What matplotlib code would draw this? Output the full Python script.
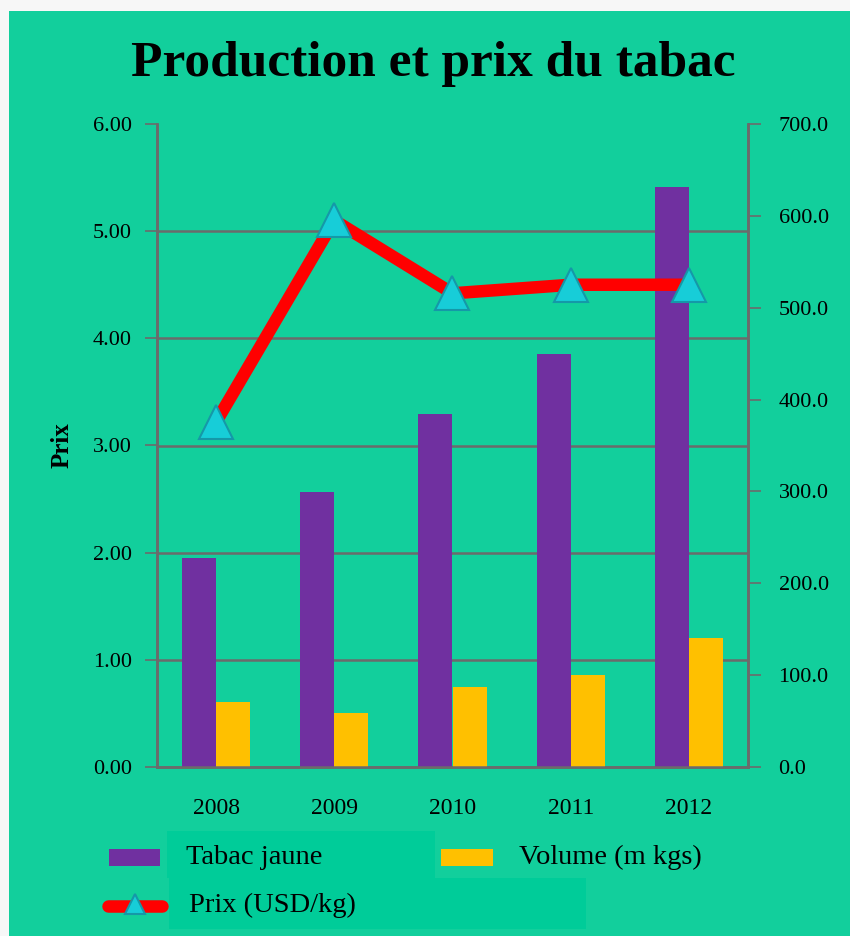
import matplotlib
matplotlib.use("Agg")
import matplotlib.pyplot as plt
import numpy as np
from matplotlib.patches import Rectangle
from matplotlib.lines import Line2D
from matplotlib.ticker import LinearLocator, FormatStrFormatter

years = ["2008", "2009", "2010", "2011", "2012"]
tabac_jaune = [228, 299, 384, 450, 631]
volume = [71, 59, 87, 100, 140]
prix = [3.22, 5.10, 4.42, 4.50, 4.50]

title = "Production et prix du tabac"
ylabel = "Prix"
labels = ["Tabac jaune", "Volume (m kgs)", "Prix (USD/kg)"]

BG = "#12CF9C"
BOX = "#00CC99"
PURPLE = "#7030A0"
YELLOW = "#FFC000"
RED = "#FF0000"
CYAN = "#17CDD8"
CYAN_EDGE = "#1598A8"
GRID = "#6B6B6B"
FONT = "Liberation Serif"

plt.rcParams['font.family'] = [FONT, 'DejaVu Serif']

W, H = 850, 936
fig = plt.figure(figsize=(W / 100, H / 100), dpi=100, facecolor="#F7F7F7")
fig.add_artist(Rectangle((9 / W, 0), 1 - 9 / W, 1 - 11 / H, transform=fig.transFigure,
                         facecolor=BG, edgecolor="none", zorder=0))

pos = [157 / W, 1 - 767 / H, (748 - 157) / W, (767 - 124) / H]
ax_bar = fig.add_axes(pos)
ax_bar.set_zorder(1)
ax_line = ax_bar.twinx()
ax_line.set_zorder(2)
ax_bar.patch.set_visible(False)
ax_line.patch.set_visible(False)

x = np.arange(len(years))
bw = 0.288
ax_bar.bar(x - bw / 2, tabac_jaune, bw, color=PURPLE, zorder=3)
ax_bar.bar(x + bw / 2, volume, bw, color=YELLOW, zorder=3)
ax_bar.set_xlim(-0.5, len(years) - 0.5)
ax_bar.set_ylim(0, 700)
ax_bar.yaxis.tick_right()
ax_bar.set_yticks(np.arange(0, 701, 100))
ax_bar.yaxis.set_major_formatter(FormatStrFormatter("%.1f"))
ax_bar.yaxis.set_minor_locator(LinearLocator(7))
ax_bar.grid(axis="y", which="minor", color=GRID, linewidth=1.8, zorder=0)
ax_bar.tick_params(axis="y", which="minor", length=0)
ax_bar.tick_params(axis="y", which="major", right=True, left=False, length=9, width=1.2,
                   color=GRID, pad=13, labelsize=16, labelright=True, labelleft=False)
ax_bar.set_xticks(x)
ax_bar.set_xticklabels(years)
ax_bar.tick_params(axis="x", length=0, pad=22, labelsize=17)

ax_line.plot(x, prix, color=RED, linewidth=9, marker="^", markersize=24,
             markerfacecolor=CYAN, markeredgecolor=CYAN_EDGE, markeredgewidth=1.5,
             zorder=5, solid_capstyle="butt")
ax_line.set_ylim(0, 6)
ax_line.yaxis.tick_left()
ax_line.yaxis.set_label_position("left")
ax_line.set_yticks(np.arange(0, 7, 1))
ax_line.yaxis.set_major_formatter(FormatStrFormatter("%.2f"))
ax_line.tick_params(axis="y", left=True, right=False, length=9, width=1.2, color=GRID,
                    pad=9, labelsize=16, labelleft=True, labelright=False)
ax_line.set_ylabel(ylabel, fontsize=18, fontweight="bold", labelpad=14)

for a in (ax_bar, ax_line):
    for s in a.spines.values():
        s.set_color(GRID)
        s.set_linewidth(1.8)
    a.spines["top"].set_visible(False)

fig.text(433 / W, 1 - 64 / H, title, ha="center", va="center", fontsize=37,
         fontweight="bold")

# legend
fig.add_artist(Rectangle((167 / W, 1 - 878 / H), (435 - 167) / W, (878 - 831) / H,
                         transform=fig.transFigure, facecolor=BOX, edgecolor="none"))
fig.add_artist(Rectangle((169 / W, 1 - 929 / H), (586 - 169) / W, (929 - 878) / H,
                         transform=fig.transFigure, facecolor=BOX, edgecolor="none"))
fig.add_artist(Rectangle((109 / W, 1 - 866 / H), 51 / W, 17 / H,
                         transform=fig.transFigure, facecolor=PURPLE, edgecolor="none"))
fig.add_artist(Rectangle((441 / W, 1 - 866 / H), 52 / W, 17 / H,
                         transform=fig.transFigure, facecolor=YELLOW, edgecolor="none"))
fig.add_artist(Line2D([108 / W, 162 / W], [1 - 906 / H, 1 - 906 / H], transform=fig.transFigure,
                      color=RED, linewidth=9, solid_capstyle="round"))
fig.add_artist(Line2D([135 / W], [1 - 904 / H], transform=fig.transFigure, marker="^",
                      markersize=15, markerfacecolor=CYAN, markeredgecolor=CYAN_EDGE,
                      markeredgewidth=1.5, linestyle="none"))
fig.text(186 / W, 1 - 857 / H, labels[0], ha="left", va="center", fontsize=20.5)
fig.text(519 / W, 1 - 857 / H, labels[1], ha="left", va="center", fontsize=20.5)
fig.text(189 / W, 1 - 905 / H, labels[2], ha="left", va="center", fontsize=20.5)

fig.savefig("out.png", dpi=100, facecolor=fig.get_facecolor())
